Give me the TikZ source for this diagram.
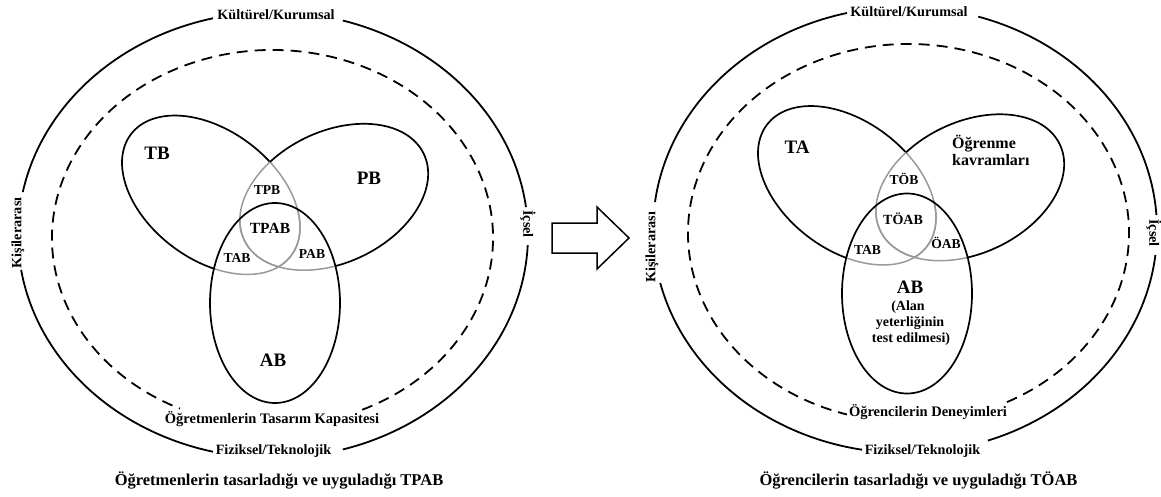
\documentclass[tikz,border=0pt]{standalone}
\usepackage{fontspec}
\setmainfont{Liberation Serif}

% Three overlapping ovals: the parts of the two upper ovals that fall inside
% another oval are drawn grey, everything else black.
% #1,#2: centre of the lower (AB) oval
\newcommand{\venntrio}[2]{%
  % upper-left oval, outside the others
  \begin{scope}[even odd rule]
    \clip[rotate around={25.7:(334,-197)}]
      (-1166,-1697) rectangle (1834,1303)
      (334,-197) ellipse [x radius=99.6, y radius=65.6];
    \clip (#1-1500,#2-1500) rectangle (#1+1500,#2+1500)
      (#1,#2) ellipse [x radius=65, y radius=100];
    \draw[vline, rotate around={-37.2:(211,-195)}]
      (211,-195) ellipse [x radius=100.5, y radius=64.3];
  \end{scope}
  % upper-left oval, inside the others
  \begin{scope}
    \clip[rotate around={25.7:(334,-197)}]
      (334,-197) ellipse [x radius=99.6, y radius=65.6];
    \draw[vgray, rotate around={-37.2:(211,-195)}]
      (211,-195) ellipse [x radius=100.5, y radius=64.3];
  \end{scope}
  \begin{scope}
    \clip (#1,#2) ellipse [x radius=65, y radius=100];
    \draw[vgray, rotate around={-37.2:(211,-195)}]
      (211,-195) ellipse [x radius=100.5, y radius=64.3];
  \end{scope}
  % upper-right oval, outside the others
  \begin{scope}[even odd rule]
    \clip[rotate around={-37.2:(211,-195)}]
      (-1289,-1695) rectangle (1711,1305)
      (211,-195) ellipse [x radius=100.5, y radius=64.3];
    \clip (#1-1500,#2-1500) rectangle (#1+1500,#2+1500)
      (#1,#2) ellipse [x radius=65, y radius=100];
    \draw[vline, rotate around={25.7:(334,-197)}]
      (334,-197) ellipse [x radius=99.6, y radius=65.6];
  \end{scope}
  % upper-right oval, inside the others
  \begin{scope}
    \clip[rotate around={-37.2:(211,-195)}]
      (211,-195) ellipse [x radius=100.5, y radius=64.3];
    \draw[vgray, rotate around={25.7:(334,-197)}]
      (334,-197) ellipse [x radius=99.6, y radius=65.6];
  \end{scope}
  \begin{scope}
    \clip (#1,#2) ellipse [x radius=65, y radius=100];
    \draw[vgray, rotate around={25.7:(334,-197)}]
      (334,-197) ellipse [x radius=99.6, y radius=65.6];
  \end{scope}
  % lower oval
  \draw[vline] (#1,#2) ellipse [x radius=65, y radius=100];
}

\begin{document}
\begin{tikzpicture}[x=1pt, y=1pt,
  ring/.style={line width=1.8pt, line cap=butt},
  dashring/.style={line width=1.8pt, dash pattern=on 11pt off 7pt},
  vline/.style={line width=1.7pt},
  vgray/.style={line width=1.5pt, draw=black!40},
  lbl/.style={inner sep=0pt, anchor=base, text=black},
  fring/.style={font=\fontsize{14.2}{16}\selectfont\bfseries},
  fmid/.style={font=\fontsize{14.5}{16}\selectfont\bfseries},
  fcap/.style={font=\fontsize{16.5}{18}\selectfont\bfseries},
  fbig/.style={font=\fontsize{19}{21}\selectfont\bfseries},
  fsm/.style={font=\fontsize{13.6}{15}\selectfont\bfseries},
  fcore/.style={font=\fontsize{15.5}{17}\selectfont\bfseries},
  fkav/.style={font=\fontsize{16}{18}\selectfont\bfseries},
  fab/.style={font=\fontsize{14}{16}\selectfont\bfseries},
  arrowbox/.style={line width=1.5pt, line join=miter}]

\useasboundingbox (0,0) rectangle (1161,-497);

% ---------------- left diagram: teachers' design ----------------
% outer context ring, broken for its four labels
\draw[ring] (273,-235) ++(7.2:255 and 223)
  arc[start angle=7.2, end angle=74.1, x radius=255, y radius=223];
\draw[ring] (273,-235) ++(103.6:255 and 223)
  arc[start angle=103.6, end angle=168.9, x radius=255, y radius=223];
\draw[ring] (273,-235) ++(189:255 and 223)
  arc[start angle=189, end angle=256.4, x radius=255, y radius=223];
\draw[ring] (273,-235) ++(285.9:255 and 223)
  arc[start angle=285.9, end angle=357.4, x radius=255, y radius=223];
% dashed design-capacity ring
\draw[dashring] (272.5,-238) ++(-66:220.5 and 188)
  arc[start angle=-66, end angle=245.2, x radius=220.5, y radius=188];

\venntrio{275}{-303}

\node[lbl,fring] (kulL) at (276,-19.5) {Kültürel/Kurumsal};
\node[lbl,fring] (fizL) at (273.5,-454.3) {Fiziksel/Teknolojik};
\node[lbl,fring,anchor=center,rotate=90] (kisL) at (18,-233) {Kişilerarası};
\node[lbl,fring,anchor=center,rotate=-90] (icsL) at (528,-224) {İçsel};
\node[lbl,fmid] (kapL) at (272,-423) {Öğretmenlerin Tasarım Kapasitesi};
\node[lbl,fcap] (capL) at (279,-485) {Öğretmenlerin tasarladığı ve uyguladığı TPAB};

\node[lbl,fbig] (tb) at (157,-159.3) {TB};
\node[lbl,fbig] (pb) at (369,-185) {PB};
\node[lbl,fbig] (abL) at (273,-366) {AB};
\node[lbl,fsm] (tpb) at (267,-194.3) {TPB};
\node[lbl,fcore] (tpab) at (270,-233.3) {TPAB};
\node[lbl,fsm] (tabL) at (237,-262.7) {TAB};
\node[lbl,fsm] (pab) at (312,-258.3) {PAB};

% ---------------- block arrow ----------------
\draw[arrowbox] (552,-223) -- (597,-223) -- (597,-207) -- (629,-238)
  -- (597,-269) -- (597,-253) -- (552,-253) -- cycle;

% ---------------- right diagram: students' design ----------------
\draw[ring] (905,-230) ++(3.85:252 and 223)
  arc[start angle=3.85, end angle=73.1, x radius=252, y radius=223];
\draw[ring] (905,-230) ++(103.3:252 and 223)
  arc[start angle=103.3, end angle=172.8, x radius=252, y radius=223];
\draw[ring] (905,-230) ++(193.75:252 and 223)
  arc[start angle=193.75, end angle=260.2, x radius=252, y radius=223];
\draw[ring] (905,-230) ++(289.2:252 and 223)
  arc[start angle=289.2, end angle=353.6, x radius=252, y radius=223];
\draw[dashring] (908.5,-233) ++(-63.5:220.5 and 189)
  arc[start angle=-63.5, end angle=253.8, x radius=220.5, y radius=189];

\begin{scope}[shift={(636,9.5)}]
  \venntrio{271}{-303}
\end{scope}

\node[lbl,fring] (kulR) at (909,-16.5) {Kültürel/Kurumsal};
\node[lbl,fring] (fizR) at (922.5,-454) {Fiziksel/Teknolojik};
\node[lbl,fring,anchor=center,rotate=90] (kisR) at (652,-247.5) {Kişilerarası};
\node[lbl,fring,anchor=center,rotate=-90] (icsR) at (1154,-233) {İçsel};
\node[lbl,fmid] (denR) at (928,-416.7) {Öğrencilerin Deneyimleri};
\node[lbl,fcap] (capR) at (918.5,-485) {Öğrencilerin tasarladığı ve uyguladığı TÖAB};

\node[lbl,fbig] (ta) at (797,-154) {TA};
\node[lbl,fkav,anchor=base west] (ogr) at (952,-148.3) {Öğrenme};
\node[lbl,fkav,anchor=base west] (kav) at (952,-165.7) {kavramları};
\node[lbl,fsm] (tob) at (904,-185) {TÖB};
\node[lbl,fab] (toab) at (903,-224) {TÖAB};
\node[lbl,fsm] (oab) at (946,-248.3) {ÖAB};
\node[lbl,fsm] (tabR) at (867.5,-254) {TAB};
\node[lbl,fbig] (abR) at (910,-293.3) {AB};
\node[lbl,fab] (alan) at (908,-310) {(Alan};
\node[lbl,fab] (yet) at (910,-326.7) {yeterliğinin};
\node[lbl,fab] (test) at (911,-342.3) {test edilmesi)};

\end{tikzpicture}
\end{document}
